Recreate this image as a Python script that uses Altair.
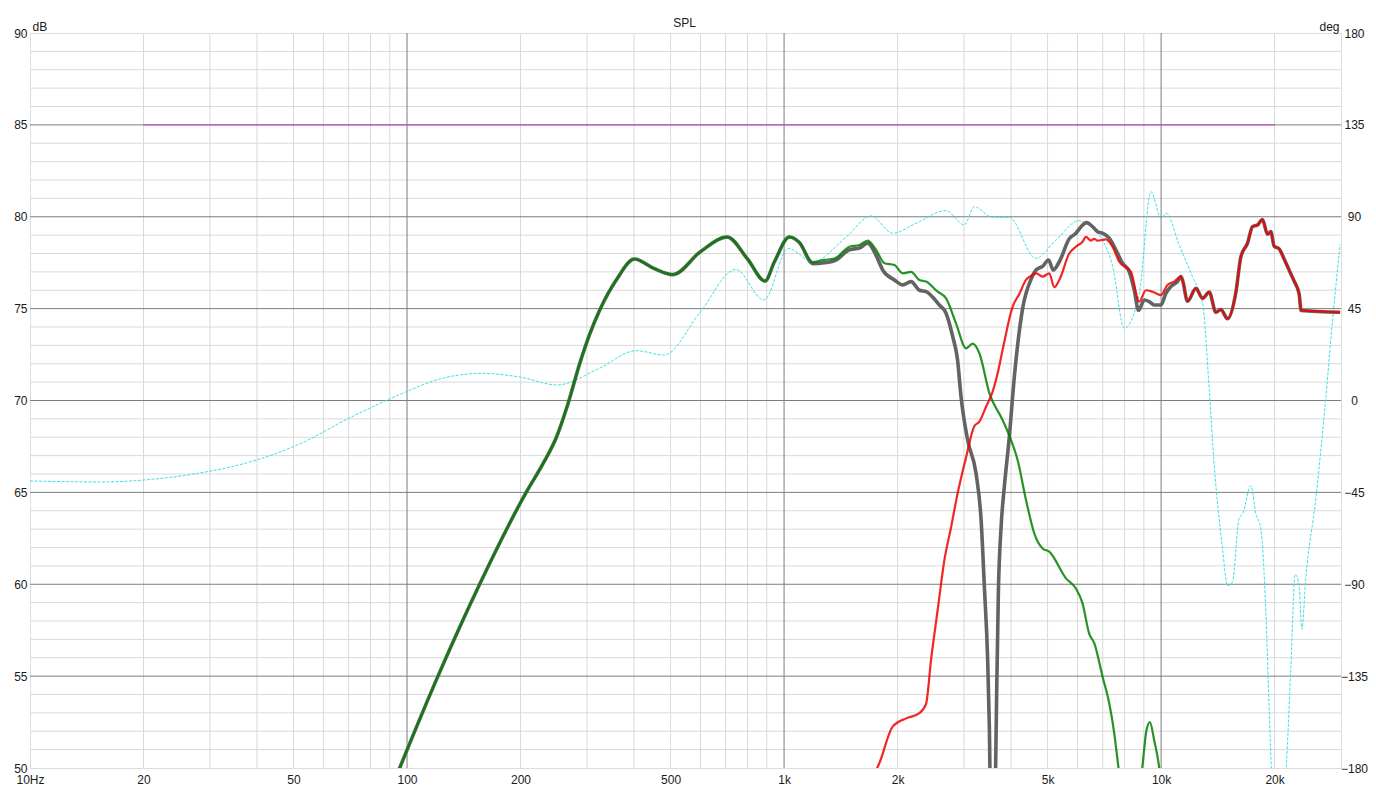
import altair as alt
import pandas as pd

FONT = "Liberation Sans"

# ---------------- data ----------------
# woofer and summed response coincide below ~1.1 kHz
lf_freq = [85, 95.6, 120.8, 155.8, 207, 230, 249, 267, 288, 305, 324, 360, 401, 450, 507,
           600, 706, 800, 890, 943, 1033, 1098]
lf_db = [47.4, 50.0, 55.0, 60.0, 65.0, 66.6, 68.0, 69.8, 72.1, 73.6, 74.9, 76.6, 77.7, 77.2,
         76.85, 78.1, 78.9, 77.7, 76.5, 77.55, 78.9, 78.6]

woofer_freq = [1192, 1280, 1360, 1491, 1584, 1667, 1754, 1846, 1962, 2064, 2172, 2285, 2381,
               2555, 2689, 2858, 3038, 3163, 3296, 3503, 3798, 3999, 4163, 4381, 4609, 4848,
               5050, 5593, 5944, 6188, 6448, 6648, 6994, 7286, 7510, 7710, 8232, 8913, 9135,
               9339, 9588, 9886, 10190]
woofer_db = [77.53, 77.65, 77.72, 78.37, 78.46, 78.7, 78.19, 77.47, 77.37, 76.92, 77.0, 76.56,
             76.47, 75.92, 75.56, 74.2, 72.84, 73.1, 72.57, 70.4, 68.94, 67.85, 66.76, 64.6,
             62.77, 61.95, 61.77, 60.32, 59.77, 58.96, 57.3, 56.8, 54.97, 53.52, 51.9, 50.0,
             46.0, 50.0, 52.0, 52.5, 51.5, 50.0, 47.0]

sum_freq = [1192, 1280, 1360, 1491, 1584, 1667, 1754, 1827, 1962, 2064, 2172, 2285, 2381,
            2581, 2689, 2799, 2885, 2947, 3068, 3229, 3331, 3398, 3467, 3503, 3567, 3634,
            3663, 3701, 3763, 3839, 3958, 4081, 4292, 4519, 4659, 4848, 5028, 5176, 5370,
            5707, 5944, 6131, 6344, 6579, 6782, 6994, 7286, 7590, 7903, 8232, 8488, 8713,
            9021, 9302, 9588, 9987, 10297, 10615, 11052]
sum_db = [77.45, 77.5, 77.6, 78.2, 78.3, 78.56, 77.9, 77.1, 76.56, 76.29, 76.47, 76.0, 75.92,
          75.2, 74.75, 73.5, 72.2, 70.2, 67.85, 66.04, 63.5, 59.87, 55.9, 52.25, 40.0, 49.0,
          54.07, 59.5, 63.1, 65.31, 68.03, 71.3, 75.0, 76.6, 77.1, 77.3, 77.65, 77.1, 77.55,
          78.8, 79.1, 79.46, 79.68, 79.46, 79.19, 79.1, 78.83, 78.19, 77.47, 77.0, 76.0, 74.9,
          75.47, 75.38, 75.2, 75.2, 75.83, 76.2, 76.47]

tweeter_freq = [1700, 1789, 1941, 2107, 2285, 2381, 2454, 2555, 2661, 2773, 2886, 3038, 3195,
                3296, 3433, 3574, 3685, 3798, 4037, 4207, 4381, 4561, 4659, 4848, 5050, 5208,
                5370, 5707, 5944, 6188, 6319, 6515, 6648, 6782, 7142, 7433, 7744, 8318, 8750,
                9115, 9489, 9987, 10397, 10832]
tweeter_db = [49.3, 50.26, 52.25, 52.7, 52.98, 53.5, 55.9, 58.6, 61.3, 63.1, 64.95, 66.9, 68.6,
              68.85, 69.66, 70.48, 71.48, 72.75, 75.1, 75.8, 76.56, 76.83, 76.92, 76.74, 76.92,
              76.16, 76.56, 78.0, 78.37, 78.64, 78.9, 78.7, 78.8, 78.7, 78.77, 78.37, 77.55,
              77.0, 75.38, 76.0, 75.92, 75.74, 76.29, 76.47]

# tweeter and summed response coincide above ~11 kHz
hf_freq = [11283, 11395, 11750, 12369, 12880, 13416, 13975, 14410, 15000, 15790, 16280, 16950,
           17470, 18010, 18570, 19150, 19540, 19940, 20560, 21200, 21850, 22530, 23230, 23510,
           29840]
hf_db = [76.74, 76.56, 75.4, 76.1, 75.56, 75.9, 74.8, 74.95, 74.45, 75.9, 77.83, 78.56, 79.46,
         79.55, 79.85, 79.05, 79.19, 78.4, 78.25, 77.7, 77.1, 76.5, 75.8, 74.9, 74.8]

phase_freq = [10, 15.3, 20.2, 28.2, 38.3, 51.9, 70.1, 99.5, 122, 158, 199, 250, 324, 405, 481,
              596, 745, 884, 1027, 1190, 1461, 1702, 1942, 2239, 2689, 3007, 3196, 3572, 3953,
              4653, 5259, 6064, 6321, 6993, 7433, 7985, 8753, 9400, 10000, 10310, 11170, 12110,
              12880, 13416, 13830, 14550, 15000, 15460, 16110, 16440, 17300, 17840, 18390,
              18960, 19340, 19700, 20560, 21330, 22080, 22670, 23230, 23620, 24200, 25720,
              27350, 28470, 29840]
phase_deg = [-39.4, -39.9, -38.9, -35.5, -30.1, -21.3, -8.7, 4.3, 10.5, 13.3, 11.5, 7.6, 15.8,
             24.4, 22.3, 42.7, 64.2, 49.2, 74.5, 68.0, 80.0, 90.4, 81.9, 86.8, 93.0, 86.0, 94.9,
             89.7, 89.7, 69.6, 78.6, 88.1, 86.8, 78.6, 66.0, 35.4, 52.5, 102.3, 89.2, 91.7,
             76.2, 60.6, 47.9, 5.4, -31.6, -72.3, -90.7, -88.9, -57.5, -55.6, -41.8, -55.6,
             -63.0, -103.7, -149.9, -185, -195, -185, -131.4, -85.2, -90.7, -112, -87, -48.2,
             1.8, 38.6, 76.5]

ref_freq = [20, 20000]
ref_db = [85, 85]

# axes / grid
x_tick_values = [10, 20, 50, 100, 200, 500, 1000, 2000, 5000, 10000, 20000]
x_minor = [20, 30, 40, 50, 60, 70, 80, 90, 200, 300, 400, 500, 600, 700, 800, 900,
           2000, 3000, 4000, 5000, 6000, 7000, 8000, 9000, 20000]
x_major = [100, 1000, 10000]
db_ticks = [50, 55, 60, 65, 70, 75, 80, 85, 90]
db_minor = [v for v in range(51, 90) if v % 5 != 0]
db_major = [55, 60, 65, 70, 75, 80, 85]
deg_ticks = [-180, -135, -90, -45, 0, 45, 90, 135, 180]
chart_title = ["SPL"]


def df(fs, vs):
    return pd.DataFrame({"f": fs, "v": vs})


xscale = alt.Scale(type="log", domain=[10, 30000], nice=False)
xaxis = alt.Axis(values=x_tick_values, grid=False, ticks=False, domain=False,
                 labelPadding=6, labelFlush=False, labelOverlap=False, labelBound=False,
                 labelExpr="datum.value == 10 ? '10Hz' : (datum.value >= 1000 ? (datum.value/1000) + 'k' : '' + datum.value)",
                 title=None, labelFont=FONT, labelFontSize=12, labelColor="#1a1a1a")
X = alt.X("f:Q", scale=xscale, axis=xaxis)

dbscale = alt.Scale(domain=[50, 90], nice=False, zero=False)
left_axis = alt.Axis(values=db_ticks, orient="left", grid=False, ticks=False, domain=False,
                     labelPadding=3, labelFlush=False, labelOverlap=False, labelBound=False,
                     labelFont=FONT, labelFontSize=12, labelColor="#1a1a1a",
                     title="dB", titleAngle=0, titleX=2, titleY=-3, titleAlign="left",
                     titleBaseline="alphabetic", titleFont=FONT, titleFontSize=12,
                     titleFontWeight="normal", titleColor="#1a1a1a")
Ygrid = alt.Y("v:Q", scale=dbscale, axis=left_axis)
Ycurve = alt.Y("v:Q", scale=dbscale, axis=None)

degscale = alt.Scale(domain=[-180, 180], nice=False, zero=False)
right_axis = alt.Axis(values=deg_ticks, orient="right", grid=False, ticks=False, domain=False,
                      labelPadding=13, labelAlign="center", labelFlush=False,
                      labelOverlap=False, labelBound=False,
                      labelFont=FONT, labelFontSize=12, labelColor="#1a1a1a",
                      title="deg", titleAngle=0, titleX=-2, titleY=-3, titleAlign="right",
                      titleBaseline="alphabetic", titleFont=FONT, titleFontSize=12,
                      titleFontWeight="normal", titleColor="#1a1a1a")
Ydeg = alt.Y("v:Q", scale=degscale, axis=right_axis)

# ---------------- layer A: grid + reference level (left axis) ----------------
minor_c = "#d9d9d9"
major_c = "#7d7d7d"
g_hmin = alt.Chart(df([None] * len(db_minor), db_minor)).mark_rule(color=minor_c, strokeWidth=1).encode(y=Ygrid)
g_vmin = alt.Chart(df(x_minor, [None] * len(x_minor))).mark_rule(color=minor_c, strokeWidth=1).encode(x=X)
g_hmaj = alt.Chart(df([None] * len(db_major), db_major)).mark_rule(color=major_c, strokeWidth=1).encode(y=Ygrid)
g_vmaj = alt.Chart(df(x_major, [None] * len(x_major))).mark_rule(color=major_c, strokeWidth=1).encode(x=X)
ref_line = alt.Chart(df(ref_freq, ref_db)).mark_line(color="#c83cc8", strokeWidth=1).encode(x=X, y=Ygrid)
title_text = alt.Chart(pd.DataFrame({"t": chart_title})).mark_text(
    font=FONT, fontSize=12, color="#1a1a1a", align="center", baseline="middle"
).encode(text="t:N", x=alt.value(654.5), y=alt.value(-10.5))

layer_a = alt.layer(g_hmin, g_vmin, g_hmaj, g_vmaj, ref_line, title_text)

# ---------------- layer B: phase (right axis) ----------------
phase_line = alt.Chart(df(phase_freq, phase_deg)).mark_line(
    color="#3fe0e0", strokeWidth=1, strokeDash=[3, 1.5], clip=True, interpolate="monotone"
).encode(x=X, y=Ydeg)

# ---------------- layer C: SPL curves ----------------
sum_line = alt.Chart(df(lf_freq + sum_freq + hf_freq, lf_db + sum_db + hf_db)).mark_line(
    color="#636363", strokeWidth=3.6, clip=True, interpolate="monotone", strokeJoin="round"
).encode(x=X, y=Ycurve)
woofer_line = alt.Chart(df(lf_freq + woofer_freq, lf_db + woofer_db)).mark_line(
    color="#008000", strokeWidth=2.2, opacity=0.85, clip=True, interpolate="monotone",
    strokeJoin="round"
).encode(x=X, y=Ycurve)
tweeter_line = alt.Chart(df(tweeter_freq + hf_freq, tweeter_db + hf_db)).mark_line(
    color="#f00000", strokeWidth=2.2, opacity=0.85, clip=True, interpolate="monotone",
    strokeJoin="round"
).encode(x=X, y=Ycurve)

layer_c = alt.layer(sum_line, woofer_line, tweeter_line)

chart = alt.layer(layer_a, phase_line, layer_c).resolve_scale(y="independent").properties(
    width=1311, height=735,
    padding={"left": 22, "top": 25, "right": 27, "bottom": 20},
    autosize=alt.AutoSizeParams(type="none"),
).configure_view(stroke="#6a6a6a", strokeWidth=1).configure(background="white")

chart.save("out.html", embed_options={"renderer": "svg", "actions": False})
